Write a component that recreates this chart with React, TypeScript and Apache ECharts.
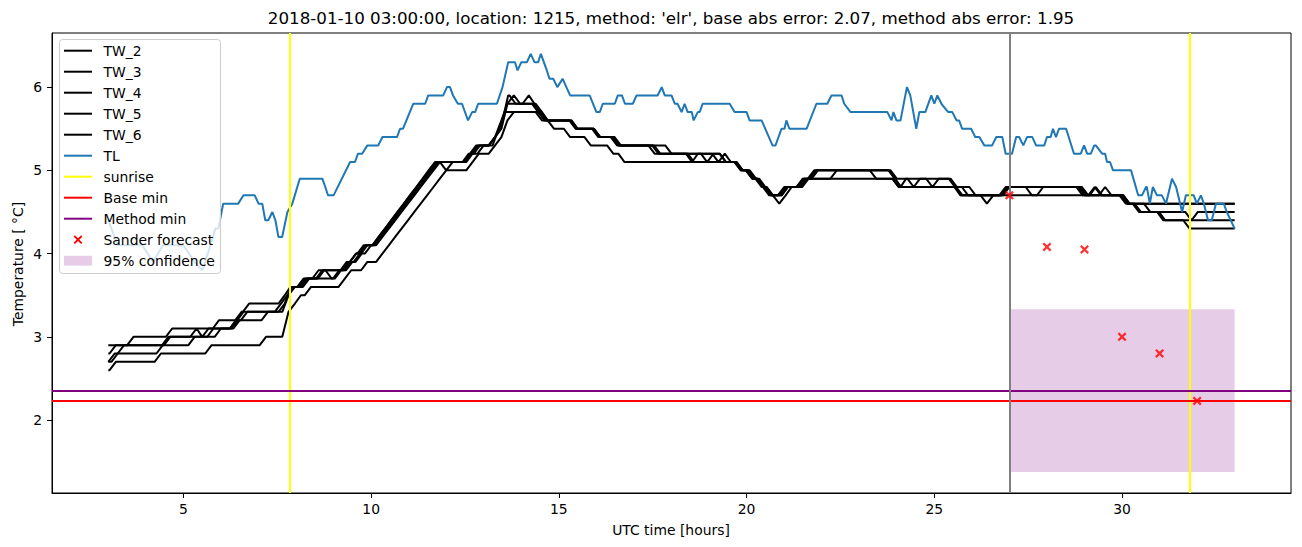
import React, { useEffect, useRef } from "react";
import * as echarts from "echarts";

// ---------- axis setup ----------
const X_TICKS = [5, 10, 15, 20, 25, 30];
const Y_TICKS = [2, 3, 4, 5, 6];
const X_RANGE = [1.5, 34.5];
const Y_RANGE = [1.124, 6.65];

// ---------- data (hours UTC, °C) ----------
const TL: number[][] = [
  [3.0, 4.4], [3.25, 4.1], [3.5, 4.1], [3.9, 4.1], [4.2, 3.9], [4.45, 4.1], [5.0, 4.1], [5.15, 4.0],
  [5.3, 3.9], [5.5, 3.8], [5.65, 4.0], [5.72, 4.1], [5.85, 4.3], [5.93, 4.3], [6.06, 4.6], [6.46, 4.6],
  [6.6, 4.7], [6.9, 4.7], [7.0, 4.6], [7.1, 4.6], [7.18, 4.4], [7.26, 4.4], [7.37, 4.5], [7.45, 4.4],
  [7.53, 4.2], [7.63, 4.2], [7.77, 4.5], [7.9, 4.6], [8.1, 4.9], [8.7, 4.9], [8.78, 4.8], [8.85, 4.7],
  [9.0, 4.7], [9.44, 5.1], [9.57, 5.1], [9.65, 5.2], [9.76, 5.2], [9.9, 5.3], [10.19, 5.3], [10.3, 5.4],
  [10.69, 5.4], [10.77, 5.5], [10.85, 5.5], [11.12, 5.8], [11.44, 5.8], [11.52, 5.9], [11.92, 5.9],
  [12.02, 6.0], [12.1, 6.0], [12.18, 5.9], [12.31, 5.8], [12.42, 5.8], [12.58, 5.6], [12.69, 5.7],
  [12.77, 5.7], [12.85, 5.8], [13.35, 5.8], [13.5, 6.0], [13.6, 6.2], [13.65, 6.3], [13.83, 6.3],
  [13.9, 6.2], [14.0, 6.3], [14.15, 6.3], [14.25, 6.4], [14.35, 6.3], [14.45, 6.3], [14.52, 6.4],
  [14.6, 6.3], [14.68, 6.2], [14.75, 6.1], [14.85, 6.1], [14.96, 6.0], [15.1, 6.1], [15.2, 6.0],
  [15.3, 5.9], [15.82, 5.9], [16.0, 5.7], [16.09, 5.7], [16.17, 5.8], [16.49, 5.8], [16.57, 5.9],
  [16.68, 5.9], [16.76, 5.8], [16.97, 5.8], [17.07, 5.9], [17.63, 5.9], [17.74, 6.0], [17.82, 5.9],
  [18.0, 5.9], [18.09, 5.8], [18.16, 5.8], [18.27, 5.7], [18.35, 5.8], [18.43, 5.7], [18.54, 5.7],
  [18.59, 5.6], [18.7, 5.7], [18.75, 5.7], [18.83, 5.8], [19.55, 5.8], [19.68, 5.7], [20.0, 5.7],
  [20.08, 5.6], [20.4, 5.6], [20.69, 5.3], [20.77, 5.3], [20.93, 5.5], [21.01, 5.5], [21.06, 5.6],
  [21.14, 5.5], [21.6, 5.5], [21.86, 5.8], [22.15, 5.8], [22.26, 5.9], [22.53, 5.9], [22.6, 5.8],
  [22.77, 5.7], [23.75, 5.7], [23.86, 5.6], [23.91, 5.7], [23.99, 5.6], [24.1, 5.6], [24.27, 6.0],
  [24.36, 5.9], [24.52, 5.5], [24.6, 5.7], [24.76, 5.7], [24.92, 5.9], [25.0, 5.8], [25.08, 5.9],
  [25.19, 5.8], [25.37, 5.7], [25.48, 5.7], [25.59, 5.6], [25.66, 5.6], [25.74, 5.5], [25.98, 5.5],
  [26.09, 5.4], [26.2, 5.4], [26.33, 5.3], [26.54, 5.3], [26.65, 5.4], [26.81, 5.4], [26.9, 5.2],
  [27.07, 5.2], [27.18, 5.4], [27.26, 5.4], [27.37, 5.3], [27.47, 5.4], [27.61, 5.4], [27.71, 5.3],
  [27.93, 5.3], [28.0, 5.4], [28.1, 5.4], [28.16, 5.5], [28.24, 5.4], [28.32, 5.5], [28.51, 5.5],
  [28.72, 5.2], [28.9, 5.2], [28.99, 5.3], [29.07, 5.2], [29.17, 5.2], [29.26, 5.3], [29.3, 5.3],
  [29.47, 5.2], [29.55, 5.2], [29.6, 5.1], [29.68, 5.1], [29.76, 5.0], [30.24, 5.0], [30.43, 4.7],
  [30.53, 4.7], [30.64, 4.8], [30.66, 4.8], [30.74, 4.6], [30.82, 4.8], [30.93, 4.7], [31.06, 4.7],
  [31.17, 4.6], [31.33, 4.9], [31.44, 4.8], [31.6, 4.5], [31.7, 4.7], [31.91, 4.7], [31.99, 4.6],
  [32.1, 4.7], [32.18, 4.6], [32.29, 4.4], [32.39, 4.4], [32.5, 4.6], [32.71, 4.6], [32.79, 4.5],
  [33.0, 4.3],
];

// water temperature sensors: [time the reading changes, new value]
const TW_2: number[][] = [
  [3.0, 2.9], [3.67, 3.0], [4.7, 3.1], [5.95, 3.2], [6.55, 3.3], [6.75, 3.4], [7.7, 3.5], [7.85, 3.6],
  [8.25, 3.7], [8.7, 3.8], [9.4, 3.9], [9.6, 4.0], [9.85, 4.1], [10.2, 4.2], [10.37, 4.3], [10.54, 4.4],
  [10.71, 4.5], [10.88, 4.6], [11.05, 4.7], [11.22, 4.8], [11.39, 4.9], [11.56, 5.0], [11.73, 5.1],
  [12.6, 5.2], [12.8, 5.3], [13.3, 5.4], [13.45, 5.5], [13.55, 5.7], [13.65, 5.9], [13.85, 5.8],
  [14.2, 5.9], [14.35, 5.8], [14.55, 5.7], [14.7, 5.6], [15.5, 5.5], [16.1, 5.4], [16.55, 5.3],
  [17.55, 5.2], [18.55, 5.1], [18.7, 5.2], [19.45, 5.1], [19.85, 5.0], [20.15, 4.9], [20.4, 4.8],
  [20.6, 4.7], [21.0, 4.8], [21.5, 4.9], [21.8, 5.0], [23.95, 4.9], [24.1, 4.8], [24.25, 4.9],
  [25.55, 4.8], [25.7, 4.7], [26.9, 4.8], [29.0, 4.7], [30.15, 4.6],
];
const TW_3: number[][] = [
  [3.0, 2.8], [3.2, 2.9], [4.65, 3.0], [5.35, 3.1], [5.5, 3.0], [5.67, 3.1], [6.45, 3.2], [6.7, 3.3],
  [7.6, 3.4], [7.77, 3.5], [7.94, 3.6], [8.3, 3.7], [8.75, 3.8], [8.95, 3.7], [9.15, 3.8], [9.45, 3.9],
  [9.7, 4.0], [9.9, 4.1], [10.25, 4.2], [10.42, 4.3], [10.59, 4.4], [10.76, 4.5], [10.93, 4.6],
  [11.1, 4.7], [11.27, 4.8], [11.44, 4.9], [11.61, 5.0], [11.78, 5.1], [12.0, 5.0], [12.17, 5.1],
  [12.65, 5.2], [12.9, 5.3], [13.3, 5.4], [13.47, 5.6], [13.63, 5.8], [14.5, 5.7], [14.67, 5.6],
  [15.45, 5.5], [16.05, 5.4], [16.6, 5.3], [17.7, 5.2], [18.95, 5.1], [19.12, 5.2], [19.45, 5.1],
  [19.9, 5.0], [20.2, 4.9], [20.45, 4.8], [20.65, 4.7], [21.05, 4.8], [21.55, 4.9], [22.4, 5.0],
  [23.95, 4.9], [24.12, 4.8], [25.75, 4.7], [26.95, 4.8], [27.6, 4.7], [27.9, 4.8], [29.05, 4.7],
  [29.3, 4.8], [29.47, 4.7], [30.2, 4.6], [30.75, 4.5], [31.85, 4.4], [32.02, 4.5],
];
const TW_4: number[][] = [
  [3.0, 2.7], [3.17, 2.8], [4.45, 2.9], [5.3, 3.0], [6.0, 3.1], [6.5, 3.2], [7.25, 3.3], [7.8, 3.5],
  [7.97, 3.6], [8.35, 3.7], [9.2, 3.8], [9.5, 3.9], [9.75, 4.0], [10.0, 4.1], [10.3, 4.2], [10.47, 4.3],
  [10.64, 4.4], [10.81, 4.5], [10.98, 4.6], [11.15, 4.7], [11.32, 4.8], [11.49, 4.9], [11.66, 5.0],
  [11.83, 5.1], [12.7, 5.2], [13.0, 5.3], [13.4, 5.5], [13.57, 5.7], [14.55, 5.6], [15.45, 5.5],
  [16.1, 5.4], [16.6, 5.3], [17.65, 5.2], [18.6, 5.1], [19.85, 5.0], [20.2, 4.9], [20.45, 4.8],
  [20.7, 4.7], [21.1, 4.8], [21.6, 4.9], [21.9, 5.0], [23.45, 4.9], [24.05, 4.8], [25.9, 4.7],
  [27.0, 4.8], [29.1, 4.7], [29.27, 4.8], [29.44, 4.7], [30.1, 4.6], [30.45, 4.5], [31.1, 4.4],
];
const TW_5: number[][] = [
  [3.0, 2.6], [3.2, 2.7], [4.4, 2.8], [5.75, 2.9], [7.2, 3.0], [7.8, 3.3], [7.97, 3.4], [8.13, 3.5],
  [8.4, 3.6], [9.3, 3.7], [9.47, 3.8], [9.9, 3.9], [10.3, 4.0], [10.47, 4.1], [10.64, 4.2], [10.81, 4.3],
  [10.98, 4.4], [11.15, 4.5], [11.32, 4.6], [11.49, 4.7], [11.66, 4.8], [11.83, 4.9], [12.0, 5.0],
  [12.7, 5.1], [12.87, 5.2], [13.3, 5.3], [13.47, 5.4], [13.63, 5.6], [13.8, 5.7], [14.7, 5.6],
  [14.87, 5.5], [15.3, 5.4], [15.85, 5.3], [16.45, 5.2], [16.75, 5.1], [19.85, 5.0], [20.25, 4.9],
  [20.5, 4.8], [20.7, 4.7], [20.87, 4.6], [21.04, 4.7], [21.2, 4.8], [21.65, 4.9], [24.05, 4.8],
  [25.7, 4.7], [26.4, 4.6], [26.57, 4.7], [30.15, 4.6], [30.5, 4.5], [31.15, 4.4], [31.8, 4.3],
];
const TW_6: number[][] = [
  [3.0, 2.7], [3.25, 2.8], [3.42, 2.9], [4.6, 3.0], [5.8, 3.1], [6.4, 3.2], [6.6, 3.3], [7.7, 3.4],
  [7.87, 3.6], [8.2, 3.7], [8.6, 3.8], [9.35, 3.9], [9.6, 4.0], [9.8, 4.1], [10.2, 4.2], [10.37, 4.3],
  [10.53, 4.4], [10.7, 4.5], [10.87, 4.6], [11.03, 4.7], [11.2, 4.8], [11.37, 4.9], [11.53, 5.0],
  [11.7, 5.1], [12.65, 5.2], [12.85, 5.3], [13.3, 5.4], [13.47, 5.5], [13.63, 5.8], [13.8, 5.9],
  [13.97, 5.8], [14.45, 5.7], [14.62, 5.6], [15.5, 5.5], [16.1, 5.4], [16.65, 5.3], [18.0, 5.2],
  [19.25, 5.1], [19.42, 5.2], [19.58, 5.1], [19.9, 5.0], [20.15, 4.9], [20.45, 4.8], [20.65, 4.7],
  [21.1, 4.8], [21.5, 4.9], [21.85, 5.0], [24.0, 4.9], [24.45, 4.8], [24.62, 4.9], [24.95, 4.8],
  [25.12, 4.9], [25.6, 4.8], [26.1, 4.7], [26.95, 4.8], [28.95, 4.7], [29.55, 4.8], [29.72, 4.7],
  [30.2, 4.6],
];
const TW_END = 33.0;
const SAMPLE_STEP = 1 / 6; // 10-minute readings

const SUNRISE = [7.82, 31.8];
const FORECAST_START = 27;
const BASE_MIN = 2.23;
const METHOD_MIN = 2.35;
const FORECAST_X = [27, 28, 29, 30, 31, 32];
const FORECAST_Y = [4.7, 4.08, 4.05, 3.0, 2.8, 2.23];
const CONF_X = [27, 33];
const CONF_Y = [1.376, 3.332];

const TITLE =
  "2018-01-10 03:00:00, location: 1215, method: 'elr', base abs error: 2.07, method abs error: 1.95";

const FONT = "DejaVu Sans";
const X_MARK =
  "path://M0,1.8L1.8,0L5,3.2L8.2,0L10,1.8L6.8,5L10,8.2L8.2,10L5,6.8L1.8,10L0,8.2L3.2,5Z";

function stepLine(steps: number[][], end: number): number[][] {
  const pts: number[][] = [];
  steps.forEach(([t, v], i) => {
    if (i > 0) {
      const [pt, pv] = steps[i - 1];
      const hold = Math.max(t - SAMPLE_STEP, pt);
      if (hold > pt) pts.push([hold, pv]);
    }
    pts.push([t, v]);
  });
  pts.push([end, steps[steps.length - 1][1]]);
  return pts;
}

const LEGEND_ITEMS = [
  { name: "TW_2", kind: "line", color: "#000000" },
  { name: "TW_3", kind: "line", color: "#000000" },
  { name: "TW_4", kind: "line", color: "#000000" },
  { name: "TW_5", kind: "line", color: "#000000" },
  { name: "TW_6", kind: "line", color: "#000000" },
  { name: "TL", kind: "line", color: "#1f77b4" },
  { name: "sunrise", kind: "line", color: "#ffff00" },
  { name: "Base min", kind: "line", color: "#ff0000" },
  { name: "Method min", kind: "line", color: "#800080" },
  { name: "Sander forecast", kind: "marker", color: "#ff0000" },
  { name: "95% confidence", kind: "patch", color: "rgba(128,0,128,0.2)" },
];

function buildLegend(): any[] {
  const x0 = 59.5;
  const y0 = 39.5;
  const rowH = 21;
  const firstY = 50.7;
  const Z = 100;
  const children: any[] = [
    {
      type: "rect",
      z: Z,
      shape: { x: x0, y: y0, width: 161, height: 234, r: 3 },
      style: { fill: "rgba(255,255,255,0.8)", stroke: "#cccccc", lineWidth: 1 },
    },
  ];
  LEGEND_ITEMS.forEach((it, i) => {
    const cy = firstY + rowH * i;
    if (it.kind === "line") {
      children.push({
        type: "line",
        z: Z + 1,
        shape: { x1: 64, y1: cy, x2: 92, y2: cy },
        style: { stroke: it.color, lineWidth: 2 },
      });
    } else if (it.kind === "patch") {
      children.push({
        type: "rect",
        z: Z + 1,
        shape: { x: 64, y: cy - 4.9, width: 28, height: 9.8 },
        style: { fill: it.color },
      });
    } else {
      children.push({
        type: "line",
        z: Z + 1,
        shape: { x1: 74.3, y1: cy - 3.7, x2: 81.7, y2: cy + 3.7 },
        style: { stroke: it.color, lineWidth: 1.8 },
      });
      children.push({
        type: "line",
        z: Z + 1,
        shape: { x1: 81.7, y1: cy - 3.7, x2: 74.3, y2: cy + 3.7 },
        style: { stroke: it.color, lineWidth: 1.8 },
      });
    }
    children.push({
      type: "text",
      z: Z + 1,
      x: 103.5,
      y: cy,
      style: {
        text: it.name,
        fill: "#000",
        font: `13.9px "${FONT}"`,
        verticalAlign: "middle",
        align: "left",
      },
    });
  });
  return children;
}

export default function App() {
  const ref = useRef<HTMLDivElement>(null);

  useEffect(() => {
    if (!ref.current) return;
    const chart = echarts.init(ref.current, null, { renderer: "svg" });

    const twSeries = [
      ["TW_2", TW_2],
      ["TW_3", TW_3],
      ["TW_4", TW_4],
      ["TW_5", TW_5],
      ["TW_6", TW_6],
    ].map(([name, steps]: any) => ({
      name,
      type: "line",
      data: stepLine(steps, TW_END),
      showSymbol: false,
      symbol: "none",
      z: 3,
      lineStyle: { color: "#000000", width: 2 },
      itemStyle: { color: "#000000" },
      emphasis: { disabled: true },
    }));

    const refLine = (name: string, color: string, data: any[], z: number) => ({
      name,
      type: "line",
      data: [],
      z,
      markLine: {
        silent: true,
        symbol: ["none", "none"],
        label: { show: false },
        lineStyle: { color, width: 2, type: "solid" },
        emphasis: { disabled: true },
        data,
      },
    });

    const option: any = {
      animation: false,
      textStyle: { fontFamily: FONT },
      grid: {
        left: 52,
        right: 11,
        top: 33,
        bottom: 54,
        show: true,
        borderColor: "#000",
        borderWidth: 1,
        backgroundColor: "transparent",
      },
      xAxis: {
        type: "value",
        min: X_RANGE[0],
        max: X_RANGE[1],
        splitLine: { show: false },
        axisLine: { show: true, onZero: false, lineStyle: { color: "#000", width: 1 } },
        axisTick: { show: true, length: 5, customValues: X_TICKS, lineStyle: { color: "#000" } },
        axisLabel: {
          customValues: X_TICKS,
          color: "#000",
          fontSize: 13.9,
          fontFamily: FONT,
          margin: 9,
        },
      },
      yAxis: {
        type: "value",
        min: Y_RANGE[0],
        max: Y_RANGE[1],
        splitLine: { show: false },
        axisLine: { show: true, onZero: false, lineStyle: { color: "#000", width: 1 } },
        axisTick: { show: true, length: 5, customValues: Y_TICKS, lineStyle: { color: "#000" } },
        axisLabel: {
          customValues: Y_TICKS,
          color: "#000",
          fontSize: 13.9,
          fontFamily: FONT,
          margin: 10,
        },
      },
      series: [
        {
          name: "95% confidence",
          type: "line",
          data: [],
          z: 1,
          markArea: {
            silent: true,
            itemStyle: { color: "rgba(128,0,128,0.2)" },
            emphasis: { disabled: true },
            data: [
              [
                { coord: [CONF_X[0], CONF_Y[0]] },
                { coord: [CONF_X[1], CONF_Y[1]] },
              ],
            ],
          },
        },
        ...twSeries,
        {
          name: "TL",
          type: "line",
          data: TL,
          showSymbol: false,
          symbol: "none",
          z: 4,
          lineStyle: { color: "#1f77b4", width: 2 },
          itemStyle: { color: "#1f77b4" },
          emphasis: { disabled: true },
        },
        refLine("sunrise", "#ffff00", SUNRISE.map((v) => ({ xAxis: v })), 5),
        refLine("Base min", "#ff0000", [{ yAxis: BASE_MIN }], 5),
        refLine("Method min", "#800080", [{ yAxis: METHOD_MIN }], 5),
        refLine("forecast start", "#808080", [{ xAxis: FORECAST_START }], 5),
        {
          name: "Sander forecast",
          type: "scatter",
          data: FORECAST_X.map((x, i) => [x, FORECAST_Y[i]]),
          symbol: X_MARK,
          symbolSize: 9,
          z: 6,
          itemStyle: { color: "#ff0000" },
          emphasis: { disabled: true },
        },
      ],
      graphic: [
        {
          type: "text",
          x: 671,
          y: 18,
          z: 100,
          style: {
            text: TITLE,
            fill: "#000",
            font: `16.7px "${FONT}"`,
            align: "center",
            verticalAlign: "middle",
          },
        },
        {
          type: "text",
          x: 671,
          y: 530,
          z: 100,
          style: {
            text: "UTC time [hours]",
            fill: "#000",
            font: `13.9px "${FONT}"`,
            align: "center",
            verticalAlign: "middle",
          },
        },
        {
          type: "text",
          x: 18,
          y: 264,
          rotation: Math.PI / 2,
          z: 100,
          style: {
            text: "Temperature [ °C]",
            fill: "#000",
            font: `13.9px "${FONT}"`,
            align: "center",
            verticalAlign: "middle",
          },
        },
        {
          type: "group",
          z: 100,
          children: buildLegend(),
        },
      ],
    };

    chart.setOption(option);
    return () => chart.dispose();
  }, []);

  return (
    <div
      ref={ref}
      style={{ position: "absolute", left: 0, top: 0, width: 1302, height: 547, background: "#fff" }}
    />
  );
}
